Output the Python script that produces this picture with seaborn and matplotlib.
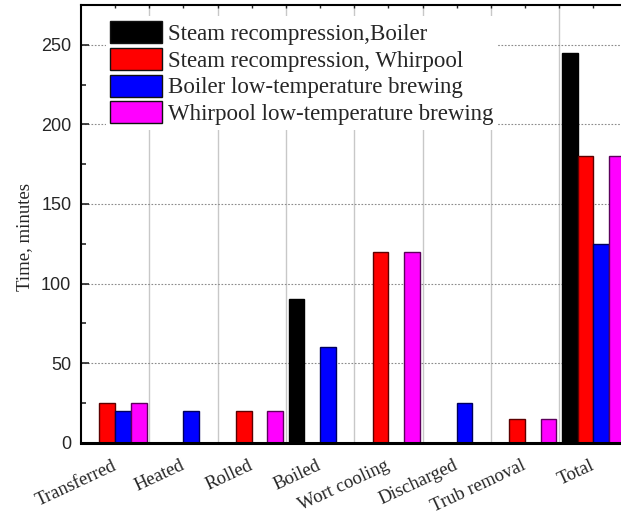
import numpy as np
import pandas as pd
import matplotlib
matplotlib.use("Agg")
import matplotlib.pyplot as plt
from matplotlib.patches import Patch
from matplotlib.ticker import MultipleLocator
import seaborn as sns

# Process steps and time (minutes) for each brewing scheme
steps = ["Transferred", "Heated", "Rolled", "Boiled", "Wort cooling",
         "Discharged", "Trub removal", "Total"]
series = ["Steam recompression,Boiler", "Steam recompression, Whirpool",
          "Boiler low-temperature brewing", "Whirpool low-temperature brewing"]
steam_boiler = [0, 0, 0, 90, 0, 0, 0, 245]
steam_whirpool = [25, 0, 20, 0, 120, 0, 15, 180]
boiler_low_temp = [20, 20, 0, 60, 0, 25, 0, 125]
whirpool_low_temp = [25, 0, 20, 0, 120, 0, 15, 180]
y_ticks = [0, 50, 100, 150, 200, 250]

colors = ["#000000", "#ff0000", "#0000ff", "#ff00ff"]
edges = ["#000000", "#5c0000", "#00005c", "#5c005c"]

rows = []
for name, vals in zip(series, [steam_boiler, steam_whirpool,
                               boiler_low_temp, whirpool_low_temp]):
    for step, v in zip(steps, vals):
        rows.append({"step": step, "series": name, "minutes": v})
df = pd.DataFrame(rows)

sns.set_style("ticks")
plt.rcParams["font.family"] = ["Liberation Sans", "DejaVu Sans"]

fig = plt.figure(figsize=(6.21, 5.17), dpi=100)
ax = fig.add_axes([81 / 621, 1 - 442.7 / 517, 546.4 / 621, 437.7 / 517])

sns.barplot(data=df, x="step", y="minutes", hue="series", order=steps,
            hue_order=series, palette=colors, saturation=1, width=0.92,
            errorbar=None, linewidth=1.0, legend=False, ax=ax)
for cont, ec in zip(ax.containers, edges):
    for bar in cont:
        bar.set_edgecolor(ec)

ax.set_axisbelow(True)
ax.set_xlim(-0.5, 7.5)
ax.set_ylim(0, 275)

# y axis
ax.set_yticks(y_ticks)
ax.yaxis.set_minor_locator(MultipleLocator(25))
ax.tick_params(axis="y", which="major", direction="in", length=6, width=1.2,
               left=True, right=False, labelsize=13, pad=7)
ax.tick_params(axis="y", which="minor", direction="in", length=3.5,
               width=1.2, left=True, right=False)

# x axis
ax.set_xticks(range(len(steps)))
ax.set_xticklabels(steps, rotation=25, ha="right", va="center",
                   rotation_mode="anchor",
                   fontfamily="Liberation Serif", fontsize=13.5)
ax.set_xticks(np.arange(0.5, len(steps) - 0.5, 1), minor=True)
ax.tick_params(axis="x", which="both", bottom=False, top=True,
               direction="in", length=2.5, width=1, pad=16)

# grid
ax.grid(False)
ax.grid(axis="x", which="minor", color="#c8c8c8", lw=1.0)
ax.grid(axis="y", which="major", color="#8a8a8a", lw=0.8, ls=(0, (1.5, 1.5)))

for side in ["left", "top"]:
    ax.spines[side].set_linewidth(1.5)
    ax.spines[side].set_color("black")
ax.spines["bottom"].set_linewidth(2.2)
ax.spines["bottom"].set_color("black")
ax.spines["right"].set_visible(False)

ax.set_xlabel("")
ax.set_ylabel("Time, minutes", fontfamily="Liberation Serif", fontsize=13.5)
ax.yaxis.set_label_coords(-0.088, 0.469)

handles = [Patch(facecolor=c, edgecolor="#111111", lw=1.0) for c in colors]
ax.legend(handles, series, loc="upper left", bbox_to_anchor=(0.045, 0.974),
          borderaxespad=0, prop={"family": "Liberation Serif", "size": 16.5},
          handlelength=2.25, handleheight=1.1, labelspacing=0.13,
          handletextpad=0.27, borderpad=0.2, frameon=True, fancybox=False,
          framealpha=1, facecolor="white", edgecolor="none")

fig.savefig("out.png", dpi=100)
